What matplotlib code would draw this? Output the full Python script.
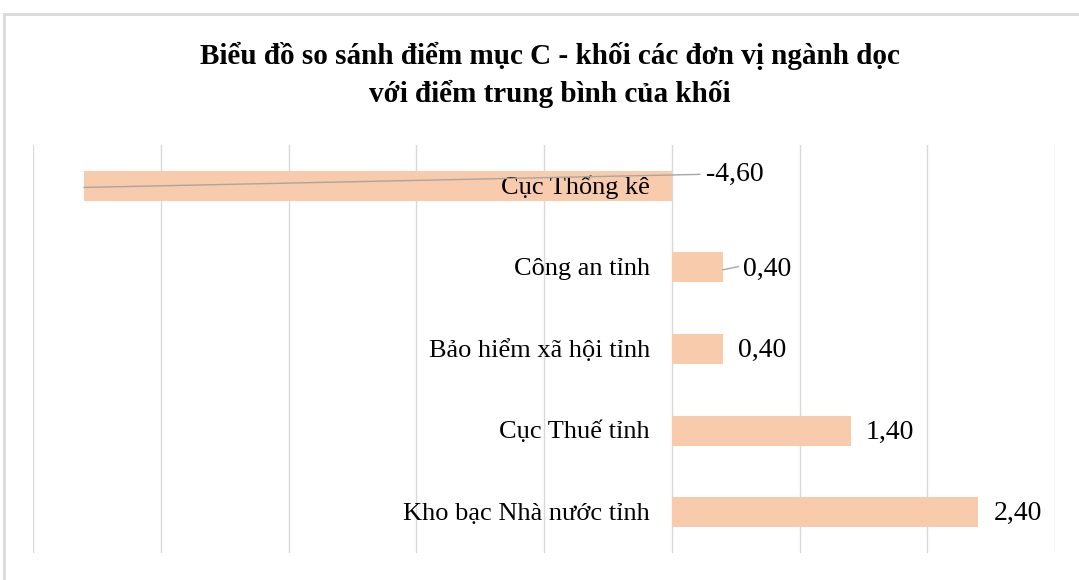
import matplotlib.pyplot as plt
from matplotlib.lines import Line2D

categories = ["Kho bạc Nhà nước tỉnh", "Cục Thuế tỉnh", "Bảo hiểm xã hội tỉnh",
              "Công an tỉnh", "Cục Thống kê"]
values = [2.40, 1.40, 0.40, 0.40, -4.60]
value_labels = ["2,40", "1,40", "0,40", "0,40", "-4,60"]
x_ticks = [-5, -4, -3, -2, -1, 0, 1, 2, 3]

plt.rcParams["font.family"] = ["Liberation Serif", "DejaVu Serif"]

fig = plt.figure(figsize=(10.79, 5.8), dpi=100)
ax = fig.add_axes([33 / 1079, 27 / 580, (1055 - 33) / 1079, (553 - 145) / 580])

ypos = list(range(len(categories)))
ax.barh(ypos, values, height=0.37, color="#F8CBAD", zorder=2)

ax.set_xlim(-5, 3)
ax.set_ylim(-0.5, len(categories) - 0.5)
for t in x_ticks:
    ax.axvline(t, color="#D9D9D9", lw=1, zorder=1)
ax.set_xticks([])
ax.set_yticks([])
for s in ax.spines.values():
    s.set_visible(False)

# category names next to the zero line
for y, name in zip(ypos, categories):
    ax.text(-0.17, y - 0.02, name, ha="right", va="center", fontsize=19, zorder=3)

# value labels
for y, v, lab in zip(ypos, values, value_labels):
    if v < 0:
        ax.text(0.27, y + 0.14, lab, ha="left", va="center", fontsize=20, zorder=3)
        ax.plot([v, 0.22], [y - 0.02, y + 0.14], color="#A6A6A6", lw=1, zorder=3)
    elif y == 3:
        ax.text(v + 0.16, y - 0.02, lab, ha="left", va="center", fontsize=20, zorder=3)
        ax.plot([v, v + 0.12], [y - 0.03, y + 0.01], color="#A6A6A6", lw=1, zorder=3)
    else:
        ax.text(v + 0.12, y - 0.02, lab, ha="left", va="center", fontsize=20, zorder=3)

fig.text(550 / 1079, 1 - 75 / 580,
         "Biểu đồ so sánh điểm mục C - khối các đơn vị ngành dọc\nvới điểm trung bình của khối",
         ha="center", va="center", fontsize=21, fontweight="bold", linespacing=1.45)

# chart frame edges
fig.add_artist(Line2D([4 / 1079, 4 / 1079], [0, 1 - 14 / 580], color="#D9D9D9", lw=2))
fig.add_artist(Line2D([4 / 1079, 1], [1 - 14 / 580, 1 - 14 / 580], color="#D9D9D9", lw=2))

fig.savefig("out.png", dpi=100)
